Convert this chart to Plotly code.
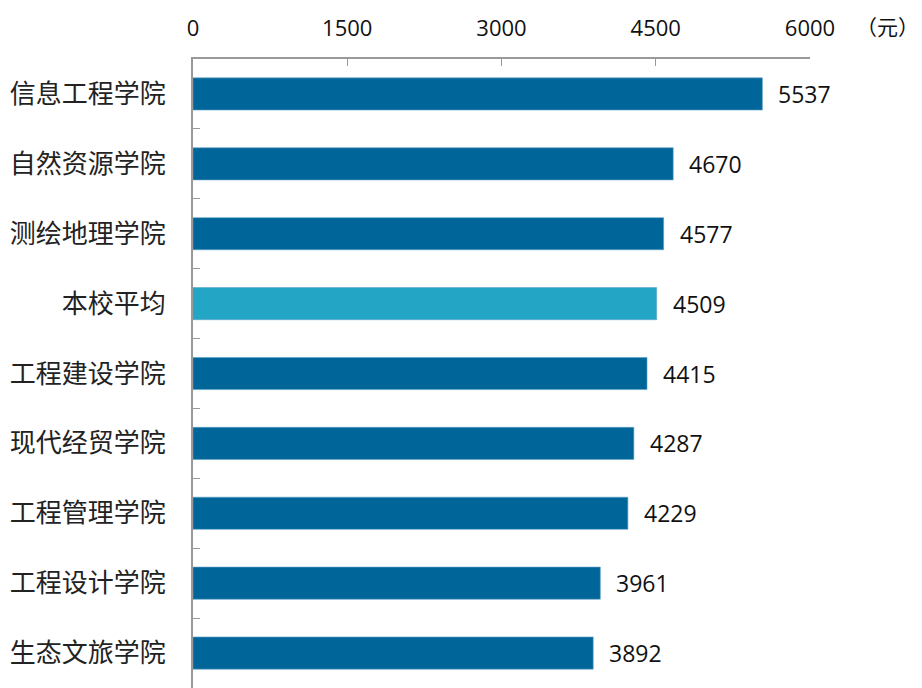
import plotly.graph_objects as go

categories = ["信息工程学院", "自然资源学院", "测绘地理学院", "本校平均", "工程建设学院",
              "现代经贸学院", "工程管理学院", "工程设计学院", "生态文旅学院"]
values = [5537, 4670, 4577, 4509, 4415, 4287, 4229, 3961, 3892]
highlight = "本校平均"
x_ticks = [0, 1500, 3000, 4500, 6000]
unit_label = "（元）"

dark = "#006699"
light = "#23A6C6"
colors = [light if c == highlight else dark for c in categories]

fig = go.Figure(go.Bar(
    x=values, y=categories, orientation="h",
    marker=dict(color=colors, line=dict(color="#5FA3C8", width=0.6)),
    width=0.46,
))

for c, v in zip(categories, values):
    fig.add_annotation(x=v, y=c, text=str(v), showarrow=False, xanchor="left",
                       xshift=14, font=dict(family="Open Sans", size=23, color="#111"))

fig.add_annotation(xref="paper", yref="paper", x=1.072, y=1.053, text=unit_label,
                   showarrow=False, xanchor="left", yanchor="middle",
                   font=dict(family="Noto Sans CJK SC", size=21, color="#111"))

fig.update_layout(
    width=914, height=680,
    margin=dict(l=185, r=112, t=51, b=0),
    plot_bgcolor="white", paper_bgcolor="white",
    showlegend=False,
    xaxis=dict(side="top", range=[0, 6000], tickvals=x_ticks, ticks="inside",
               ticklen=7, tickcolor="#999", showline=True, linecolor="#999",
               linewidth=1.5, showgrid=False, zeroline=False,
               tickfont=dict(family="Open Sans", size=22, color="#111"),
               ticklabelstandoff=12),
    yaxis=dict(categoryorder="array", categoryarray=categories, autorange="reversed",
               ticks="inside", tickson="boundaries", ticklen=7, tickcolor="#999",
               showline=True, linecolor="#999", linewidth=2, showgrid=False,
               tickfont=dict(family="Noto Sans CJK SC", size=26, color="#222"),
               ticklabelstandoff=20),
)

fig.write_html("out.html")
